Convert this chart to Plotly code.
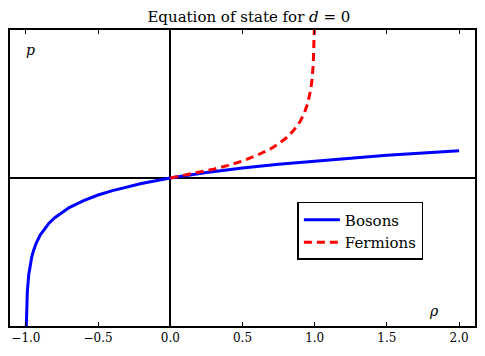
import plotly.graph_objects as go

# values
rho_bosons = [-0.998, -0.995, -0.99, -0.98, -0.97, -0.96, -0.95, -0.93, -0.9, -0.87, -0.84,
              -0.8, -0.75, -0.7, -0.6, -0.5, -0.4, -0.3, -0.2, -0.1, 0.0, 0.25, 0.5,
              0.75, 1.0, 1.25, 1.5, 1.75, 2.0]
p_bosons = [-6.2, -5.3, -4.6, -3.91, -3.51, -3.22, -3.0, -2.66, -2.3, -2.04, -1.83,
            -1.61, -1.39, -1.2, -0.92, -0.69, -0.51, -0.36, -0.22, -0.11, 0.0, 0.22, 0.41,
            0.56, 0.69, 0.81, 0.92, 1.01, 1.10]

rho_fermions = [0.0, 0.1, 0.2, 0.3, 0.4, 0.5, 0.6, 0.7, 0.75, 0.8, 0.85, 0.9, 0.93,
                0.95, 0.97, 0.98, 0.99, 0.995, 0.998]
p_fermions = [0.0, 0.11, 0.22, 0.36, 0.51, 0.69, 0.92, 1.2, 1.39, 1.61, 1.9, 2.3, 2.66,
              3.0, 3.51, 3.91, 4.6, 5.3, 6.2]

x_ticks = [-1.0, -0.5, 0.0, 0.5, 1.0, 1.5, 2.0]

serif = "DejaVu Serif"

fig = go.Figure()
fig.add_trace(go.Scatter(x=rho_bosons, y=p_bosons, mode="lines", name="Bosons",
                         line=dict(color="#0000ff", width=3)))
fig.add_trace(go.Scatter(x=rho_fermions, y=p_fermions, mode="lines", name="Fermions",
                         line=dict(color="#ff0000", width=3, dash="8px,5px")))

# the page body adds an 8px margin, so the figure is shrunk by that much
fig.update_layout(
    width=477, height=348,
    margin=dict(l=2, r=10, t=22, b=30, autoexpand=False),
    paper_bgcolor="white", plot_bgcolor="white",
    font=dict(family=serif, size=12, color="black"),
    title=dict(text="Equation of state for <i>d</i> = 0", x=0.505, xanchor="center",
               y=0.975, yanchor="middle", font=dict(size=15), automargin=False),
    showlegend=True,
    legend=dict(x=0.618, y=0.419, xanchor="left", yanchor="top",
                bordercolor="black", borderwidth=1.5, bgcolor="white",
                font=dict(size=15), itemwidth=36, tracegroupgap=2),
    annotations=[
        dict(text="<i>p</i>", x=0.03, y=0.966, xref="paper", yref="paper",
             showarrow=False, font=dict(size=14)),
        dict(text="<i>ρ</i>", x=0.927, y=0.016, xref="paper", yref="paper",
             showarrow=False, font=dict(size=14)),
    ],
)
fig.update_xaxes(range=[-1.11, 2.11], tickvals=x_ticks, ticktext=[f"{v:.1f}".replace("-", "−") for v in x_ticks],
                 ticks="inside", ticklen=4, tickcolor="black", tickwidth=1,
                 showline=True, linecolor="black", linewidth=1.5, mirror="ticks",
                 showgrid=False, zeroline=True, zerolinecolor="black", zerolinewidth=1.5,
                 tickfont=dict(size=12), automargin=False)
fig.update_yaxes(range=[-6, 6], showticklabels=False, ticks="",
                 showline=True, linecolor="black", linewidth=1.5, mirror=True,
                 showgrid=False, zeroline=True, zerolinecolor="black", zerolinewidth=1.5,
                 automargin=False)

fig.write_html("out.html")
